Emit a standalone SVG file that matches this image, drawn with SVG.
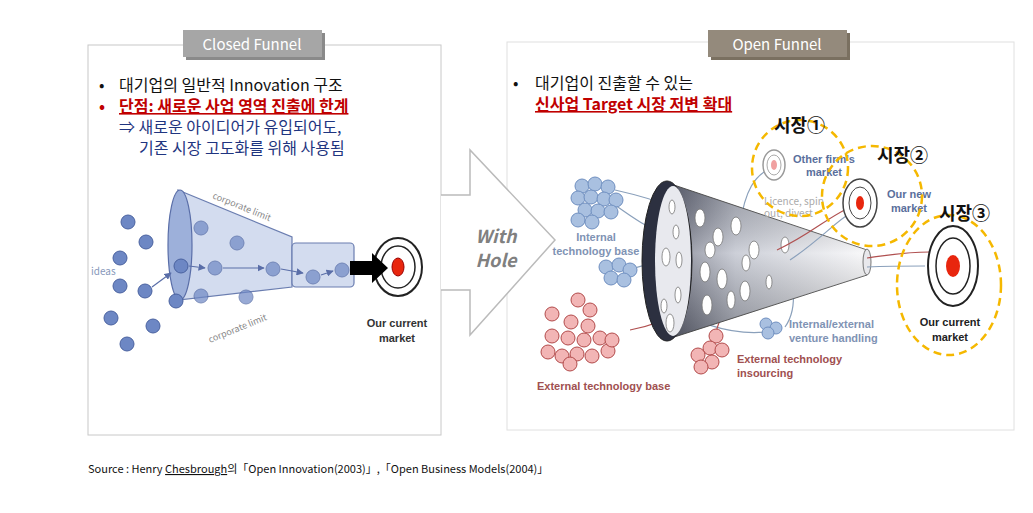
<svg xmlns="http://www.w3.org/2000/svg" width="1033" height="513" viewBox="0 0 1033 513">
<style>
text{font-family:"Noto Sans CJK KR","Liberation Sans",sans-serif}
.k{font-size:16px;fill:#111}
.red{font-size:16px;fill:#c00000;font-weight:bold;text-decoration:underline}
.blu{font-size:16px;fill:#1f3580}
.tab{font-size:15px;fill:#fff}
.dot{fill:#6d87c4;stroke:#4a62a0;stroke-width:1}
.bd{fill:#a9c0e0;stroke:#6f8fc0;stroke-width:1}
.rd{fill:#f2b5b5;stroke:#b24a4a;stroke-width:1}
.hole{fill:#fff;stroke:#777;stroke-width:.8}
.yc{fill:none;stroke:#f5b800;stroke-width:2.5;stroke-dasharray:8 5}
.lab{font-family:"Liberation Sans",sans-serif;font-weight:bold;font-size:11px}
.mk{font-size:18px;font-weight:bold;fill:#111}
.ln{fill:none;stroke-width:1.2}
</style>
<defs>
<linearGradient id="cone" x1="0" y1="0" x2="1" y2="0">
<stop offset="0" stop-color="#5a5e70"/><stop offset=".35" stop-color="#b8bcc8"/><stop offset="1" stop-color="#f6f6f8"/>
</linearGradient>
<linearGradient id="conev" x1="0" y1="0" x2="0" y2="1">
<stop offset="0" stop-color="#000" stop-opacity=".15"/><stop offset=".45" stop-color="#fff" stop-opacity=".3"/><stop offset="1" stop-color="#000" stop-opacity=".25"/>
</linearGradient>
<marker id="ah" viewBox="0 0 10 10" refX="9" refY="5" markerWidth="6" markerHeight="6" orient="auto"><path d="M0,0L10,5L0,10z" fill="#5a6ea8"/></marker>
</defs>
<rect width="1033" height="513" fill="#fff"/>

<g id="closed-panel">
<rect x="88" y="45" width="353" height="390" fill="#fff" stroke="#c8c8c8"/>
<rect x="186" y="33" width="139" height="27" fill="#8a8a8a"/>
<rect x="183" y="30" width="139" height="27" fill="#a6a6a6"/>
<text class="tab" x="252" y="50" text-anchor="middle">Closed Funnel</text>
<text class="k" x="99" y="91">•</text>
<text class="k" x="119" y="91">대기업의 일반적 Innovation 구조</text>
<text x="99" y="112" font-size="16" fill="#c00000" font-weight="bold">•</text>
<text class="red" x="119" y="112">단점: 새로운 사업 영역 진출에 한계</text>
<text class="blu" x="119" y="133">⇒ 새로운 아이디어가 유입되어도,</text>
<text class="blu" x="139" y="154">기존 시장 고도화를 위해 사용됨</text>
</g>
<g id="open-panel">
<rect x="507" y="42" width="507" height="388" fill="#fff" stroke="#e0e0e0"/>
<rect x="711" y="33" width="139" height="27" fill="#7a7060"/>
<rect x="708" y="30" width="139" height="27" fill="#948a7c"/>
<text class="tab" x="777" y="50" text-anchor="middle">Open Funnel</text>
<text class="k" x="513" y="89">•</text>
<text class="k" x="535" y="89">대기업이 진출할 수 있는</text>
<text class="red" x="535" y="110">신사업 Target 시장 저변 확대</text>
</g>

<g id="arrow">
<path d="M441,195 L470,195 L470,150 L555,240 L470,335 L470,290 L441,290" fill="#fff" stroke="#bbb" stroke-width="1.5"/>
<text x="496" y="243" text-anchor="middle" font-family="Liberation Sans,sans-serif" font-weight="bold" font-style="italic" font-size="18" fill="#808080">With</text>
<text x="496" y="267" text-anchor="middle" font-family="Liberation Sans,sans-serif" font-weight="bold" font-style="italic" font-size="18" fill="#808080">Hole</text>
</g>

<g id="closed-funnel">
<path d="M178,190 L292,237 L292,287 L178,300 Z" fill="#d3dcef" stroke="#6a7db0" stroke-width="1.2"/>
<rect x="292" y="243" width="62" height="44" rx="4" fill="#d3dcef" stroke="#6a7db0" stroke-width="1.2"/>
<ellipse cx="180" cy="245" rx="12" ry="55" fill="#9db0da" stroke="#5a6ea8" stroke-width="1.2"/>
<text x="212" y="198" font-size="9" fill="#888" transform="rotate(22 212 198)" font-family="Liberation Sans,sans-serif">corporate limit</text>
<text x="210" y="343" font-size="9" fill="#888" transform="rotate(-22 210 343)" font-family="Liberation Sans,sans-serif">corporate limit</text>
<text x="91" y="275" font-size="10" fill="#8899bb" font-family="Liberation Sans,sans-serif">ideas</text>
<g>
<circle class="dot" cx="128" cy="222" r="7"/><circle class="dot" cx="146" cy="242" r="7"/><circle class="dot" cx="120" cy="258" r="7"/>
<circle class="dot" cx="120" cy="286" r="7"/><circle class="dot" cx="145" cy="291" r="7"/><circle class="dot" cx="111" cy="318" r="7"/>
<circle class="dot" cx="153" cy="326" r="7"/><circle class="dot" cx="127" cy="344" r="7"/>
<circle class="dot" cx="201" cy="228" r="7" opacity=".7"/><circle class="dot" cx="237" cy="243" r="7" opacity=".7"/>
<circle class="dot" cx="181" cy="266" r="7"/><circle class="dot" cx="215" cy="268" r="7" opacity=".7"/>
<circle class="dot" cx="273" cy="269" r="7" opacity=".7"/><circle class="dot" cx="313" cy="277" r="7" opacity=".7"/>
<circle class="dot" cx="342" cy="270" r="7" opacity=".7"/><circle class="dot" cx="201" cy="296" r="7" opacity=".7"/>
<circle class="dot" cx="246" cy="297" r="7" opacity=".7"/><circle class="dot" cx="176" cy="301" r="7"/>
</g>
<g stroke="#5a6ea8" stroke-width="1.2" marker-end="url(#ah)">
<line x1="152" y1="287" x2="171" y2="273"/><line x1="189" y1="266" x2="205" y2="268"/>
<line x1="223" y1="268" x2="264" y2="268"/><line x1="281" y1="269" x2="303" y2="273"/><line x1="321" y1="275" x2="333" y2="271"/>
</g>
<ellipse cx="398" cy="267" rx="24" ry="29" fill="#fff" stroke="#222" stroke-width="2"/>
<ellipse cx="398" cy="267" rx="17" ry="21" fill="none" stroke="#222" stroke-width="1.5"/>
<ellipse cx="398" cy="267" rx="6" ry="9" fill="#e8260e" stroke="#900" stroke-width="1"/>
<path d="M350,261 L372,261 L372,253 L388,268 L372,283 L372,275 L350,275 Z" fill="#000"/>
<text class="lab" x="397" y="327" text-anchor="middle" fill="#333" font-size="12">Our current</text>
<text class="lab" x="397" y="342" text-anchor="middle" fill="#333" font-size="12">market</text>
</g>

<g id="open-funnel">
<g class="ln">
<path d="M615,190 C660,200 700,215 765,246" stroke="#8aa0bb"/>
<path d="M615,205 C650,230 680,250 768,258" stroke="#8aa0bb"/>
<path d="M628,270 C660,260 690,255 740,250" stroke="#8aa0bb"/>
<path d="M650,295 C690,320 730,340 780,330" stroke="#8aa0bb"/>
<path d="M740,225 C745,190 755,175 771,168" stroke="#8aa0bb"/>
<path d="M793,290 C795,310 790,320 785,327" stroke="#8aa0bb"/>
<path d="M630,330 C680,320 700,300 720,280" stroke="#b05050"/>
<path d="M715,335 C725,300 740,285 748,275" stroke="#b05050"/>
</g>
<path d="M665,182 L867,250 L867,275 L665,340 Z" fill="url(#cone)" stroke="#555" stroke-width="1"/>
<path d="M665,182 L867,250 L867,275 L665,340 Z" fill="url(#conev)"/>
<ellipse cx="867" cy="262" rx="4" ry="13" fill="#e8e8ec" stroke="#777"/>
<ellipse cx="667" cy="261" rx="25" ry="80" fill="#2c3040" stroke="#222"/>
<ellipse cx="673" cy="261" rx="18" ry="75" fill="#e8e9ee"/>
<g>
<ellipse class="hole" cx="672" cy="207" rx="3" ry="7"/><ellipse class="hole" cx="676" cy="232" rx="3" ry="7"/>
<ellipse class="hole" cx="666" cy="257" rx="4" ry="9"/><ellipse class="hole" cx="679" cy="260" rx="3" ry="8"/>
<ellipse class="hole" cx="678" cy="295" rx="3" ry="8"/><ellipse class="hole" cx="664" cy="306" rx="3" ry="7"/>
<ellipse class="hole" cx="670" cy="323" rx="4" ry="9"/>
<ellipse class="hole" cx="700" cy="218" rx="5" ry="9"/><ellipse class="hole" cx="718" cy="237" rx="5" ry="9"/>
<ellipse class="hole" cx="710" cy="250" rx="5" ry="8"/><ellipse class="hole" cx="705" cy="272" rx="5" ry="10"/>
<ellipse class="hole" cx="722" cy="279" rx="5" ry="10"/><ellipse class="hole" cx="746" cy="263" rx="4" ry="8"/>
<ellipse class="hole" cx="736" cy="226" rx="5" ry="9"/><ellipse class="hole" cx="754" cy="250" rx="5" ry="9"/>
<ellipse class="hole" cx="745" cy="291" rx="5" ry="10"/><ellipse class="hole" cx="707" cy="305" rx="5" ry="10"/>
<ellipse class="hole" cx="731" cy="300" rx="4" ry="9"/><ellipse class="hole" cx="769" cy="282" rx="3" ry="7"/>
<ellipse class="hole" cx="785" cy="245" rx="4" ry="8"/>
</g>
<path d="M777,250 C810,235 830,215 855,205" class="ln" stroke="#b05050"/>
<path d="M790,260 C820,240 835,222 852,212" class="ln" stroke="#8aa0bb"/>
<path d="M867,258 C890,255 905,252 930,252" class="ln" stroke="#b05050"/>
<path d="M867,267 C890,266 905,266 925,266" class="ln" stroke="#8aa0bb"/>
<g>
<circle class="bd" cx="582" cy="186" r="7"/><circle class="bd" cx="595" cy="184" r="7"/><circle class="bd" cx="608" cy="187" r="7"/>
<circle class="bd" cx="578" cy="198" r="7"/><circle class="bd" cx="591" cy="197" r="7"/><circle class="bd" cx="604" cy="199" r="7"/><circle class="bd" cx="616" cy="200" r="7"/>
<circle class="bd" cx="585" cy="210" r="7"/><circle class="bd" cx="598" cy="211" r="7"/><circle class="bd" cx="611" cy="212" r="7"/>
<circle class="bd" cx="578" cy="220" r="7"/><circle class="bd" cx="592" cy="222" r="7"/>
<circle class="bd" cx="606" cy="267" r="7"/><circle class="bd" cx="619" cy="265" r="7"/><circle class="bd" cx="630" cy="270" r="7"/>
<circle class="bd" cx="611" cy="278" r="7"/><circle class="bd" cx="624" cy="280" r="7"/>
<circle class="bd" cx="766" cy="324" r="6"/><circle class="bd" cx="776" cy="328" r="6"/><circle class="bd" cx="768" cy="333" r="6"/>
</g>
<g>
<circle class="rd" cx="578" cy="300" r="7"/><circle class="rd" cx="590" cy="310" r="7"/><circle class="rd" cx="552" cy="314" r="7"/>
<circle class="rd" cx="571" cy="322" r="7"/><circle class="rd" cx="588" cy="326" r="7"/><circle class="rd" cx="552" cy="336" r="7"/>
<circle class="rd" cx="568" cy="338" r="7"/><circle class="rd" cx="584" cy="340" r="7"/><circle class="rd" cx="600" cy="338" r="7"/>
<circle class="rd" cx="548" cy="352" r="7"/><circle class="rd" cx="562" cy="356" r="7"/><circle class="rd" cx="577" cy="354" r="7"/>
<circle class="rd" cx="592" cy="356" r="7"/><circle class="rd" cx="608" cy="351" r="7"/><circle class="rd" cx="570" cy="364" r="7"/>
<circle class="rd" cx="612" cy="340" r="7"/>
<circle class="rd" cx="716" cy="336" r="7"/><circle class="rd" cx="710" cy="348" r="7"/><circle class="rd" cx="722" cy="350" r="7"/>
<circle class="rd" cx="698" cy="355" r="7"/><circle class="rd" cx="712" cy="362" r="7"/><circle class="rd" cx="701" cy="367" r="7"/>
</g>
<ellipse cx="774" cy="165" rx="11" ry="15" fill="#fff" stroke="#999" stroke-width="1.5"/>
<ellipse cx="774" cy="165" rx="7" ry="10" fill="none" stroke="#aaa"/>
<ellipse cx="774" cy="165" rx="3" ry="5" fill="#f0a0a0"/>
<ellipse cx="860" cy="203" rx="17" ry="24" fill="#fff" stroke="#444" stroke-width="1.5"/>
<ellipse cx="860" cy="203" rx="11" ry="16" fill="none" stroke="#444"/>
<ellipse cx="860" cy="203" rx="4" ry="7" fill="#e8260e"/>
<ellipse cx="953" cy="266" rx="25" ry="40" fill="#fff" stroke="#222" stroke-width="2"/>
<ellipse cx="953" cy="266" rx="17" ry="28" fill="none" stroke="#222" stroke-width="1.5"/>
<ellipse cx="953" cy="266" rx="7" ry="11" fill="#e8260e"/>
<text class="lab" x="824" y="163" text-anchor="middle" fill="#5a6f9c" font-size="10">Other firm's</text>
<text class="lab" x="824" y="176" text-anchor="middle" fill="#5a6f9c" font-size="10">market</text>
<text x="764" y="205" font-size="10" fill="#aaa" font-family="Liberation Sans,sans-serif">Licence, spin</text>
<text x="764" y="217" font-size="10" fill="#aaa" font-family="Liberation Sans,sans-serif">out, divest</text>
<text class="lab" x="909" y="198" text-anchor="middle" fill="#5a6f9c">Our new</text>
<text class="lab" x="909" y="212" text-anchor="middle" fill="#5a6f9c">market</text>
<text class="lab" x="596" y="241" text-anchor="middle" fill="#7f93b4">Internal</text>
<text class="lab" x="596" y="255" text-anchor="middle" fill="#7f93b4">technology base</text>
<text class="lab" x="789" y="328" fill="#7f93b4">Internal/external</text>
<text class="lab" x="789" y="342" fill="#7f93b4">venture handling</text>
<text class="lab" x="737" y="363" fill="#a05050">External technology</text>
<text class="lab" x="737" y="377" fill="#a05050">insourcing</text>
<text class="lab" x="537" y="390" fill="#a05050">External technology base</text>
<text class="lab" x="950" y="326" text-anchor="middle" fill="#222" font-size="12">Our current</text>
<text class="lab" x="950" y="341" text-anchor="middle" fill="#222" font-size="12">market</text>
</g>
<g id="markets">
<circle class="yc" cx="800" cy="168" r="48"/>
<circle class="yc" cx="872" cy="196" r="50"/>
<ellipse class="yc" cx="949" cy="285" rx="52" ry="70"/>
<text class="mk" x="774" y="132">시장①</text>
<text class="mk" x="877" y="162">시장②</text>
<text class="mk" x="939" y="220">시장③</text>
</g>
<text x="88" y="473" font-size="11" fill="#111">Source : Henry <tspan text-decoration="underline">Chesbrough</tspan>의「Open Innovation(2003)」,「Open Business Models(2004)」</text>
</svg>
